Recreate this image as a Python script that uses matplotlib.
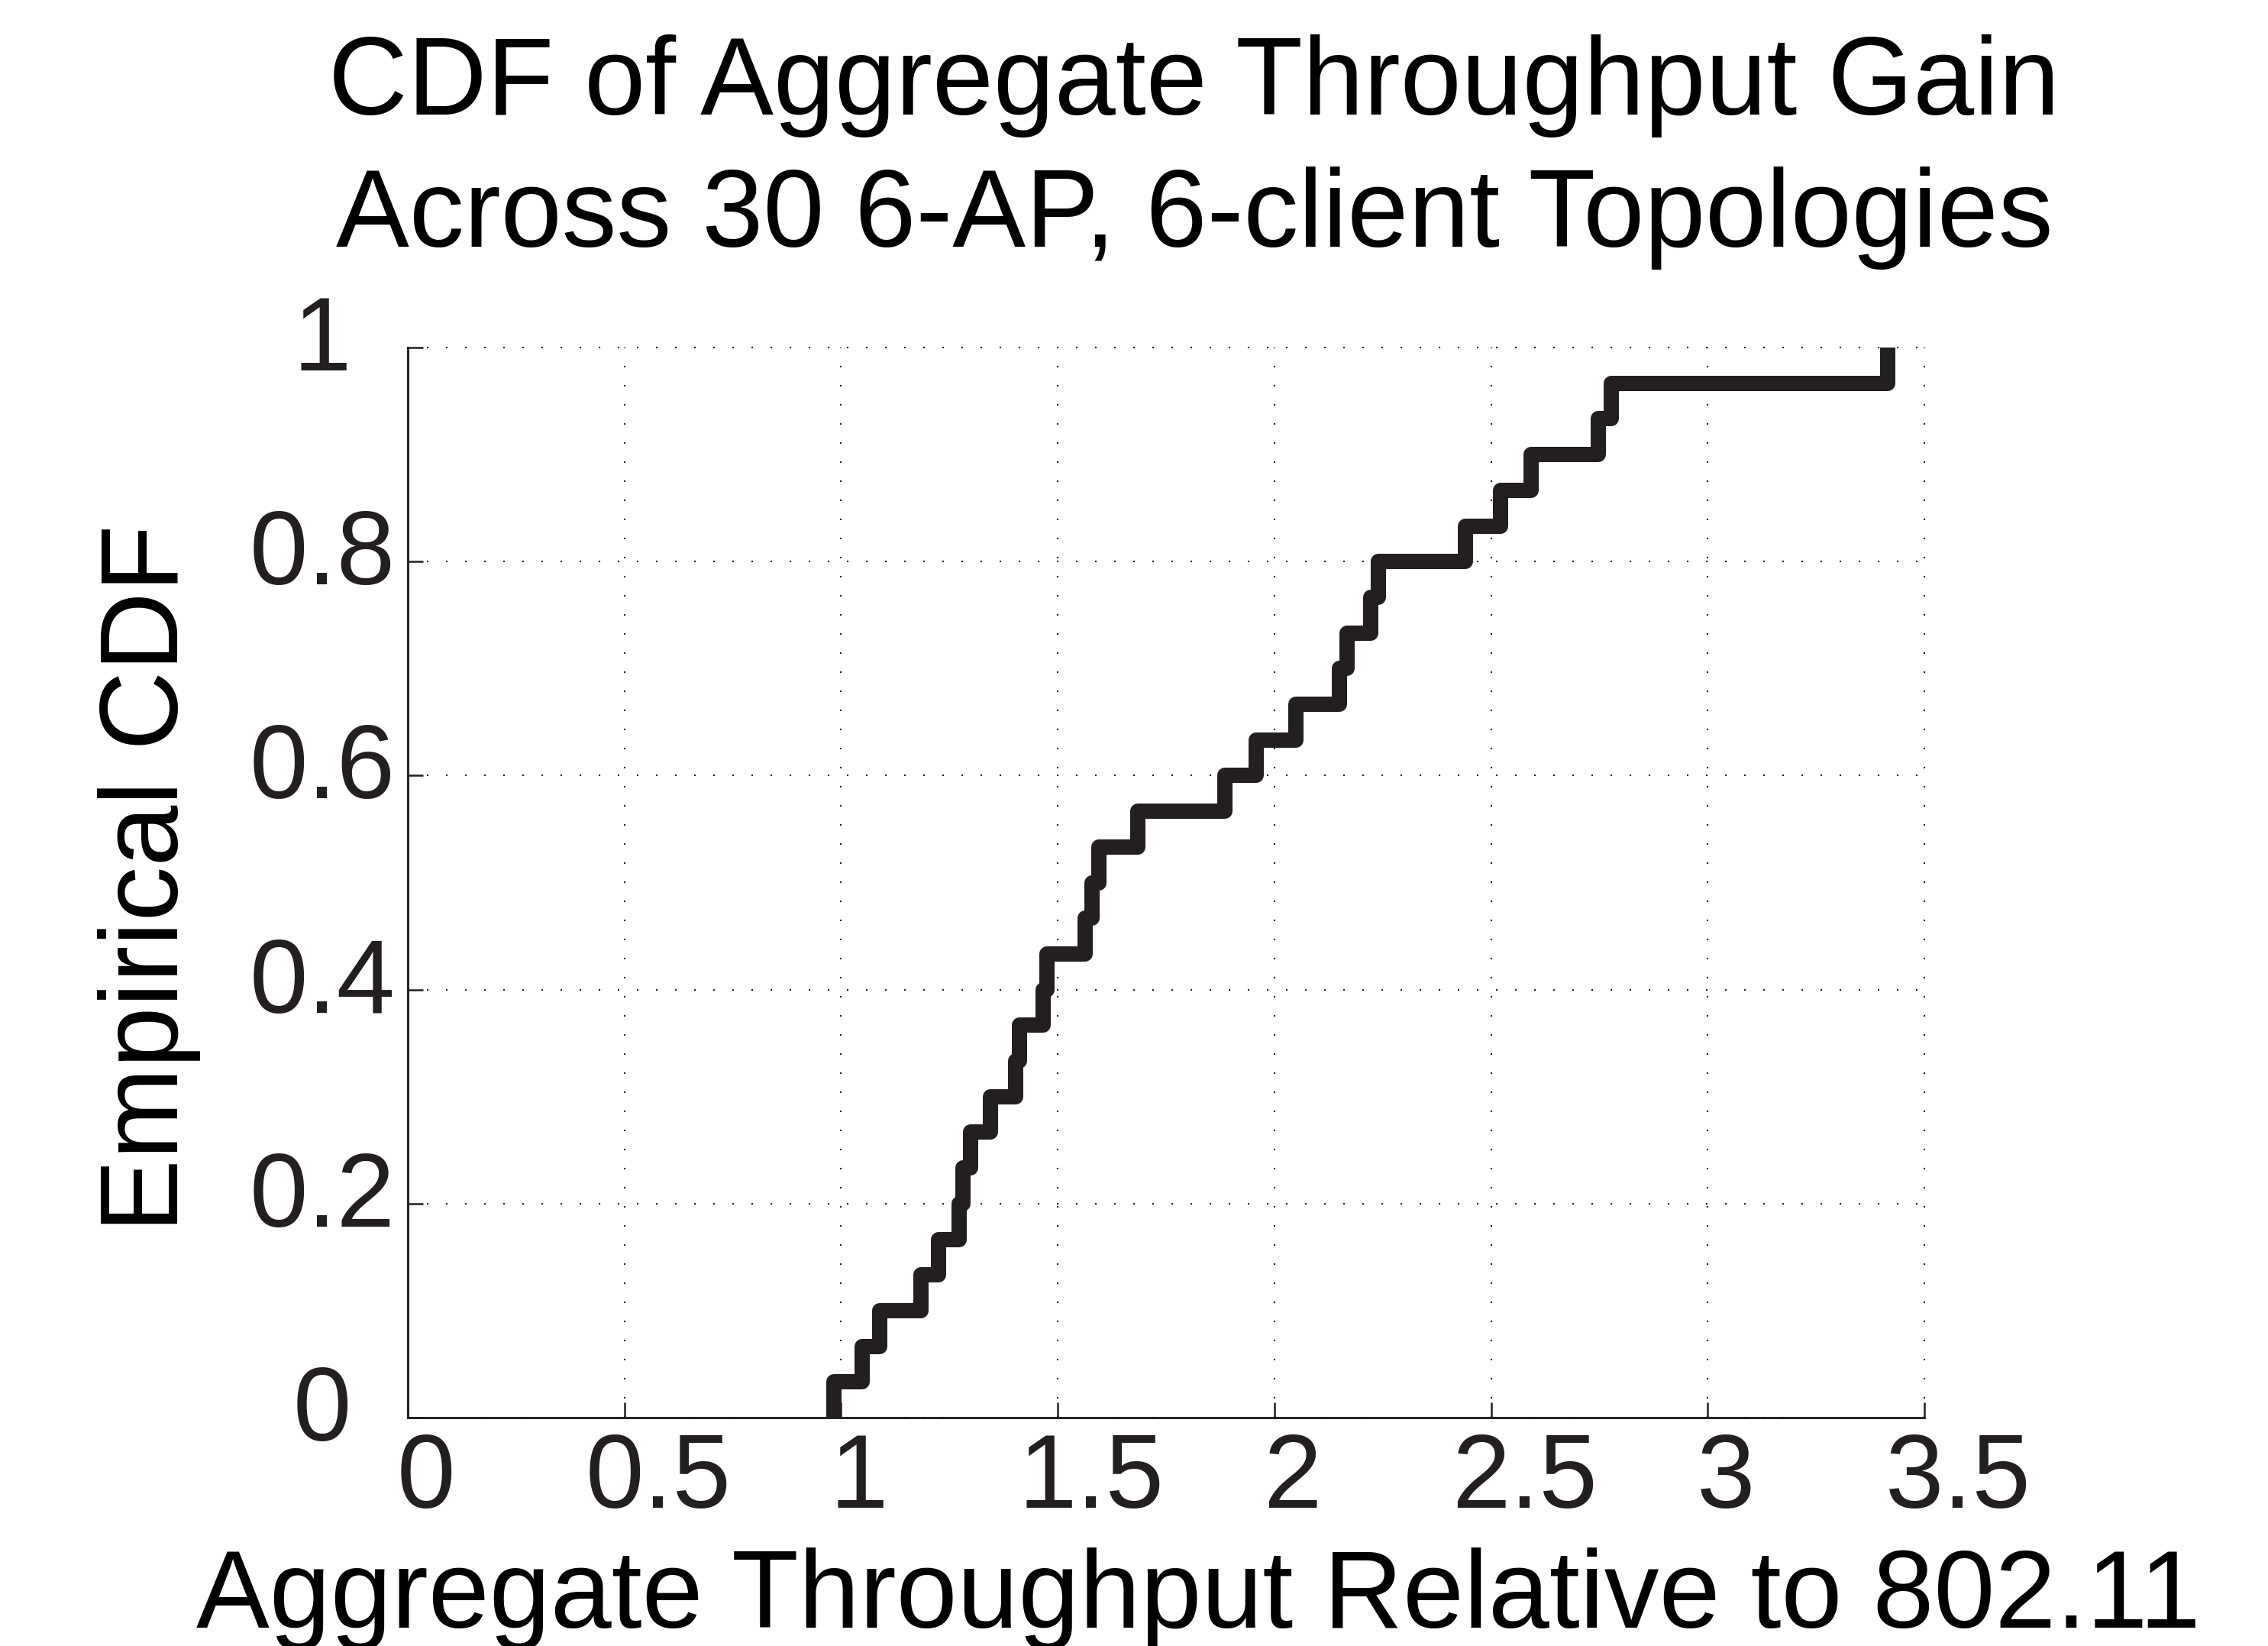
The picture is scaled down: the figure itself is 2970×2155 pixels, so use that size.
import numpy as np
import matplotlib
matplotlib.use('Agg')
import matplotlib.pyplot as plt
import matplotlib.transforms as mtransforms

# ---- data ----
gain = [0.983, 1.048, 1.089, 1.185, 1.225, 1.273, 1.281, 1.298, 1.345, 1.402,
        1.411, 1.467, 1.475, 1.563, 1.579, 1.595, 1.684, 1.886, 1.958, 2.050,
        2.150, 2.167, 2.223, 2.240, 2.441, 2.522, 2.593, 2.747, 2.778, 3.415]
x_ticks = [0, 0.5, 1, 1.5, 2, 2.5, 3, 3.5]
x_tick_labels = ['0', '0.5', '1', '1.5', '2', '2.5', '3', '3.5']
y_ticks = [0, 0.2, 0.4, 0.6, 0.8, 1]
y_tick_labels = ['0', '0.2', '0.4', '0.6', '0.8', '1']
title_lines = ['CDF of Aggregate Throughput Gain',
               'Across 30 6-AP, 6-client Topologies']
xlabel = 'Aggregate Throughput Relative to 802.11'
ylabel = 'Empirical CDF'

plt.rcParams['font.family'] = ['Liberation Sans', 'DejaVu Sans']
DPI = 300
W, H = 2970, 2155
DARK = '#231f20'
BIG = 34.5

fig = plt.figure(figsize=(W / DPI, H / DPI), dpi=DPI)
ax = fig.add_axes([534 / W, (H - 1856) / H, (2520 - 534) / W, (1856 - 455) / H])

xs = np.sort(np.array(gain))
n = len(xs)
ys = np.arange(1, n + 1) / n
ax.step(np.r_[xs[0], xs], np.r_[0, ys], where='post', color=DARK, lw=4.8,
        solid_joinstyle='round', solid_capstyle='butt', zorder=3)

ax.set_xlim(0, 3.5)
ax.set_ylim(0, 1)
ax.set_xticks(x_ticks)
ax.set_yticks(y_ticks)
ax.tick_params(direction='in', length=4.8, width=0.6, color=DARK,
               labelbottom=False, labelleft=False)
for s in ['top', 'right']:
    ax.spines[s].set_visible(False)
for s in ['left', 'bottom']:
    ax.spines[s].set_color(DARK)
    ax.spines[s].set_linewidth(0.7)
ax.grid(True, color=DARK, linestyle=(0, (1, 11)), linewidth=0.5, clip_on=False)

# tick labels as texts
trans_x = mtransforms.blended_transform_factory(ax.transData, ax.transAxes)
trans_y = mtransforms.blended_transform_factory(ax.transAxes, ax.transData)
xt = []
for v, lab in zip(x_ticks, x_tick_labels):
    t = ax.text(v, 0, lab, transform=trans_x, ha='center', va='baseline',
                fontsize=33, color=DARK, clip_on=False)
    xt.append(t)
for v, lab in zip(y_ticks, y_tick_labels):
    ax.text(0, v, lab,
            transform=mtransforms.offset_copy(trans_y, fig=fig, x=-112, y=-30, units='dots'),
            ha='center', va='baseline', fontsize=33, color=DARK, clip_on=False)

fig.canvas.draw()
r = fig.canvas.get_renderer()
for t in xt:
    w = t.get_window_extent(r).width
    t.set_transform(mtransforms.offset_copy(trans_x, fig=fig, x=9.8 + 0.18 * w,
                                            y=-118, units='dots'))

# titles and labels
fig.text(1564 / W, 1 - 150 / H, title_lines[0], ha='center', va='baseline',
         fontsize=BIG, color='black')
fig.text(1564 / W, 1 - 323 / H, title_lines[1], ha='center', va='baseline',
         fontsize=BIG, color='black')
fig.text(233 / W, 1 - 1150 / H, ylabel, rotation=90, rotation_mode='anchor',
         ha='center', va='baseline', fontsize=BIG, color='black')
fig.text(1569 / W, 1 - 2131 / H, xlabel, ha='center', va='baseline',
         fontsize=BIG, color='black')

fig.savefig('out.png', dpi=DPI, facecolor='white')
